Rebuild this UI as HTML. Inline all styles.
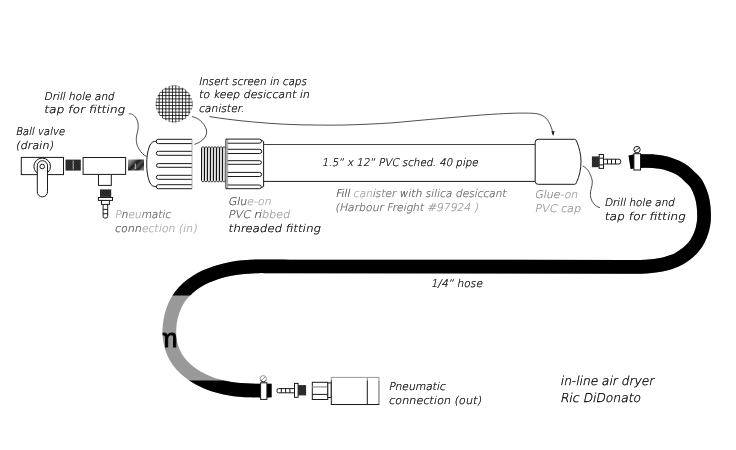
<!DOCTYPE html>
<html>
<head>
<meta charset="utf-8">
<title>In-line air dryer</title>
<style>
html,body{margin:0;padding:0;background:#fff;}
body{width:736px;height:450px;overflow:hidden;}
svg{display:block;will-change:transform;}
.t{font-family:"DejaVu Sans","Liberation Sans",sans-serif;font-weight:200;font-size:10.6px;fill:#000;stroke:#000;stroke-width:0.24;}
.l{fill:none;stroke:#1a1a1a;stroke-width:1;}
.c{fill:none;stroke:#222;stroke-width:0.8;}
.w{fill:#fff;stroke:#1a1a1a;stroke-width:1;}
.wm{font-family:"Liberation Sans",sans-serif;font-weight:normal;font-size:26.5px;fill:#000;stroke:#000;stroke-width:0.9;}
</style>
</head>
<body>
<svg width="736" height="450" viewBox="0 0 736 450">
<defs>
<pattern id="hatch" width="2" height="2" patternUnits="userSpaceOnUse" patternTransform="rotate(45)">
<rect width="2" height="2" fill="#1c1c1c"/>
<rect width="2" height="0.5" fill="#555"/>
</pattern>
<linearGradient id="gr2" x1="0" y1="0" x2="1" y2="0.7">
<stop offset="0" stop-color="#b5b5b5"/><stop offset="0.3" stop-color="#666"/><stop offset="0.5" stop-color="#1a1a1a"/><stop offset="0.68" stop-color="#555"/><stop offset="0.85" stop-color="#222"/><stop offset="1" stop-color="#777"/>
</linearGradient>
<clipPath id="disc"><circle cx="174.1" cy="104" r="18.5"/></clipPath>
<clipPath id="notband"><rect x="0" y="0" width="736" height="295.6"/><rect x="0" y="380.5" width="736" height="70"/></clipPath>
<mask id="hosemask" maskUnits="userSpaceOnUse" x="0" y="0" width="736" height="450"><path d="M629.6 162.2C630.9 162.0 634.7 161.4 637.3 161.2C639.9 161.0 642.6 161.0 645.2 161.0C647.9 161.0 650.6 161.0 653.2 161.2C655.8 161.4 658.5 161.6 661.0 162.1C663.5 162.6 666.0 163.1 668.5 163.9C671.0 164.7 673.8 165.7 676.3 166.9C678.8 168.1 681.4 169.5 683.7 171.2C686.0 172.9 688.0 175.1 690.0 177.0C692.0 178.9 694.1 180.7 695.6 182.8C697.1 184.9 698.2 187.4 699.3 189.8C700.3 192.2 701.2 194.7 701.9 197.2C702.6 199.7 703.0 202.4 703.4 205.0C703.8 207.6 703.9 210.3 704.0 213.0C704.1 215.7 704.1 218.3 703.9 220.9C703.6 223.5 703.1 226.1 702.5 228.7C701.9 231.2 701.0 233.8 700.0 236.2C699.0 238.6 697.8 240.9 696.4 243.1C695.0 245.3 693.3 247.3 691.5 249.2C689.7 251.1 687.8 252.7 685.7 254.3C683.6 255.9 681.4 257.4 679.1 258.6C676.8 259.9 674.4 260.9 671.9 261.8C669.4 262.7 666.9 263.5 664.3 264.1C661.7 264.7 659.1 265.1 656.5 265.5C653.9 265.9 651.2 266.2 648.6 266.4C646.0 266.6 643.2 266.7 640.6 266.8C638.0 266.9 635.3 266.9 632.8 266.9C630.2 266.9 626.5 266.8 625.3 266.8L290.0 266.5C288.2 266.5 282.9 266.4 279.3 266.4C275.7 266.4 272.2 266.3 268.6 266.3C265.0 266.3 261.5 266.2 257.9 266.3C254.3 266.4 250.8 266.5 247.2 266.8C243.6 267.1 240.1 267.4 236.6 267.9C233.1 268.4 229.6 269.1 226.1 269.9C222.6 270.7 219.2 271.6 215.8 272.7C212.4 273.8 209.1 275.1 205.8 276.6C202.6 278.1 199.3 279.8 196.3 281.7C193.3 283.6 190.4 285.7 187.8 288.1C185.2 290.5 182.7 293.1 180.6 295.9C178.5 298.7 176.6 301.8 175.1 305.0C173.6 308.2 172.4 311.6 171.5 315.0C170.6 318.4 169.9 322.0 169.6 325.6C169.3 329.2 169.2 332.8 169.5 336.4C169.8 339.9 170.4 343.5 171.4 346.9C172.4 350.3 173.8 353.6 175.5 356.6C177.2 359.6 179.3 362.5 181.7 365.1C184.1 367.7 186.9 370.2 189.7 372.4C192.5 374.6 195.6 376.6 198.7 378.3C201.8 380.0 205.2 381.5 208.5 382.8C211.8 384.1 215.2 385.2 218.6 386.1C222.0 387.0 225.5 387.8 229.0 388.4C232.5 389.0 236.0 389.5 239.6 389.8C243.2 390.1 246.7 390.3 250.3 390.4C253.9 390.5 257.4 390.6 261.0 390.6C264.6 390.6 269.8 390.5 271.6 390.5" fill="none" stroke="#fff" stroke-width="13.7"/></mask>
</defs>
<rect width="736" height="450" fill="#fff"/>

<!-- hose -->
<path d="M629.6 162.2C630.9 162.0 634.7 161.4 637.3 161.2C639.9 161.0 642.6 161.0 645.2 161.0C647.9 161.0 650.6 161.0 653.2 161.2C655.8 161.4 658.5 161.6 661.0 162.1C663.5 162.6 666.0 163.1 668.5 163.9C671.0 164.7 673.8 165.7 676.3 166.9C678.8 168.1 681.4 169.5 683.7 171.2C686.0 172.9 688.0 175.1 690.0 177.0C692.0 178.9 694.1 180.7 695.6 182.8C697.1 184.9 698.2 187.4 699.3 189.8C700.3 192.2 701.2 194.7 701.9 197.2C702.6 199.7 703.0 202.4 703.4 205.0C703.8 207.6 703.9 210.3 704.0 213.0C704.1 215.7 704.1 218.3 703.9 220.9C703.6 223.5 703.1 226.1 702.5 228.7C701.9 231.2 701.0 233.8 700.0 236.2C699.0 238.6 697.8 240.9 696.4 243.1C695.0 245.3 693.3 247.3 691.5 249.2C689.7 251.1 687.8 252.7 685.7 254.3C683.6 255.9 681.4 257.4 679.1 258.6C676.8 259.9 674.4 260.9 671.9 261.8C669.4 262.7 666.9 263.5 664.3 264.1C661.7 264.7 659.1 265.1 656.5 265.5C653.9 265.9 651.2 266.2 648.6 266.4C646.0 266.6 643.2 266.7 640.6 266.8C638.0 266.9 635.3 266.9 632.8 266.9C630.2 266.9 626.5 266.8 625.3 266.8L290.0 266.5C288.2 266.5 282.9 266.4 279.3 266.4C275.7 266.4 272.2 266.3 268.6 266.3C265.0 266.3 261.5 266.2 257.9 266.3C254.3 266.4 250.8 266.5 247.2 266.8C243.6 267.1 240.1 267.4 236.6 267.9C233.1 268.4 229.6 269.1 226.1 269.9C222.6 270.7 219.2 271.6 215.8 272.7C212.4 273.8 209.1 275.1 205.8 276.6C202.6 278.1 199.3 279.8 196.3 281.7C193.3 283.6 190.4 285.7 187.8 288.1C185.2 290.5 182.7 293.1 180.6 295.9C178.5 298.7 176.6 301.8 175.1 305.0C173.6 308.2 172.4 311.6 171.5 315.0C170.6 318.4 169.9 322.0 169.6 325.6C169.3 329.2 169.2 332.8 169.5 336.4C169.8 339.9 170.4 343.5 171.4 346.9C172.4 350.3 173.8 353.6 175.5 356.6C177.2 359.6 179.3 362.5 181.7 365.1C184.1 367.7 186.9 370.2 189.7 372.4C192.5 374.6 195.6 376.6 198.7 378.3C201.8 380.0 205.2 381.5 208.5 382.8C211.8 384.1 215.2 385.2 218.6 386.1C222.0 387.0 225.5 387.8 229.0 388.4C232.5 389.0 236.0 389.5 239.6 389.8C243.2 390.1 246.7 390.3 250.3 390.4C253.9 390.5 257.4 390.6 261.0 390.6C264.6 390.6 269.8 390.5 271.6 390.5" fill="none" stroke="#999" stroke-width="13.7"/>
<g clip-path="url(#notband)"><path d="M629.6 162.2C630.9 162.0 634.7 161.4 637.3 161.2C639.9 161.0 642.6 161.0 645.2 161.0C647.9 161.0 650.6 161.0 653.2 161.2C655.8 161.4 658.5 161.6 661.0 162.1C663.5 162.6 666.0 163.1 668.5 163.9C671.0 164.7 673.8 165.7 676.3 166.9C678.8 168.1 681.4 169.5 683.7 171.2C686.0 172.9 688.0 175.1 690.0 177.0C692.0 178.9 694.1 180.7 695.6 182.8C697.1 184.9 698.2 187.4 699.3 189.8C700.3 192.2 701.2 194.7 701.9 197.2C702.6 199.7 703.0 202.4 703.4 205.0C703.8 207.6 703.9 210.3 704.0 213.0C704.1 215.7 704.1 218.3 703.9 220.9C703.6 223.5 703.1 226.1 702.5 228.7C701.9 231.2 701.0 233.8 700.0 236.2C699.0 238.6 697.8 240.9 696.4 243.1C695.0 245.3 693.3 247.3 691.5 249.2C689.7 251.1 687.8 252.7 685.7 254.3C683.6 255.9 681.4 257.4 679.1 258.6C676.8 259.9 674.4 260.9 671.9 261.8C669.4 262.7 666.9 263.5 664.3 264.1C661.7 264.7 659.1 265.1 656.5 265.5C653.9 265.9 651.2 266.2 648.6 266.4C646.0 266.6 643.2 266.7 640.6 266.8C638.0 266.9 635.3 266.9 632.8 266.9C630.2 266.9 626.5 266.8 625.3 266.8L290.0 266.5C288.2 266.5 282.9 266.4 279.3 266.4C275.7 266.4 272.2 266.3 268.6 266.3C265.0 266.3 261.5 266.2 257.9 266.3C254.3 266.4 250.8 266.5 247.2 266.8C243.6 267.1 240.1 267.4 236.6 267.9C233.1 268.4 229.6 269.1 226.1 269.9C222.6 270.7 219.2 271.6 215.8 272.7C212.4 273.8 209.1 275.1 205.8 276.6C202.6 278.1 199.3 279.8 196.3 281.7C193.3 283.6 190.4 285.7 187.8 288.1C185.2 290.5 182.7 293.1 180.6 295.9C178.5 298.7 176.6 301.8 175.1 305.0C173.6 308.2 172.4 311.6 171.5 315.0C170.6 318.4 169.9 322.0 169.6 325.6C169.3 329.2 169.2 332.8 169.5 336.4C169.8 339.9 170.4 343.5 171.4 346.9C172.4 350.3 173.8 353.6 175.5 356.6C177.2 359.6 179.3 362.5 181.7 365.1C184.1 367.7 186.9 370.2 189.7 372.4C192.5 374.6 195.6 376.6 198.7 378.3C201.8 380.0 205.2 381.5 208.5 382.8C211.8 384.1 215.2 385.2 218.6 386.1C222.0 387.0 225.5 387.8 229.0 388.4C232.5 389.0 236.0 389.5 239.6 389.8C243.2 390.1 246.7 390.3 250.3 390.4C253.9 390.5 257.4 390.6 261.0 390.6C264.6 390.6 269.8 390.5 271.6 390.5" fill="none" stroke="#000" stroke-width="13.7"/></g>
<g mask="url(#hosemask)">
<text class="wm" x="155.5" y="347">m</text>
</g>

<!-- ball valve -->
<rect class="w" x="21.3" y="157.4" width="42.2" height="17.2"/>
<circle class="w" cx="42.2" cy="166.4" r="8.3"/>
<rect class="w" x="37.3" y="160.7" width="10.2" height="36.2" rx="5.1"/>
<circle class="w" cx="42.2" cy="166.5" r="2.3"/>

<!-- nipple 1 -->
<rect x="65.5" y="159.6" width="15.3" height="11" fill="url(#hatch)"/>
<line x1="73.2" y1="160.5" x2="73.2" y2="169.5" stroke="#eee" stroke-width="0.7"/>

<!-- tee -->
<rect class="w" x="98.5" y="170" width="12.8" height="15.4"/>
<rect class="w" x="83.1" y="157.5" width="42.5" height="16.9"/>

<!-- nipple 2 -->
<rect x="128" y="159.5" width="16" height="11" fill="url(#gr2)"/>
<line x1="135.3" y1="163.5" x2="135.3" y2="169" stroke="#fff" stroke-width="0.7"/>

<!-- plug under tee -->
<rect x="100" y="189.4" width="11.2" height="7.5" fill="url(#hatch)"/>
<rect class="w" x="103.1" y="203" width="4.6" height="15.1" rx="1.8"/>
<line class="l" x1="103.1" y1="209.4" x2="107.7" y2="209.4"/>
<line class="l" x1="103.1" y1="213.7" x2="107.7" y2="213.7"/>
<rect class="w" x="101.5" y="200.4" width="7.9" height="4"/>
<rect class="w" x="98.4" y="197.5" width="14.1" height="2.9"/>

<!-- end cap with ribs -->
<path class="l" d="M156.7 141.2C153 141.3 151 142.5 149.6 146C147.2 152 146.7 158 146.7 163.6C146.7 170 147.2 176 149.6 182C151 185.5 153 186.6 156.7 186.8"/>
<path class="l" d="M192 139.3H158.3a2.15 2.15 0 0 0 0 4.3H192M192 151.3H158.3a2 2 0 0 0 0 4H192M192 163.6H158.3a1.85 1.85 0 0 0 0 3.7H192M192 175.3H158.3a2 2 0 0 0 0 4H192M192 184.7H158.3a2 2 0 0 0 0 4H192"/>
<line x1="192" y1="139.3" x2="192" y2="188.7" stroke="#999" stroke-width="0.8"/>

<!-- thread -->
<path d="M201.50 148V180.6M204.50 148V180.6M207.50 148V180.6M210.50 148V180.6M213.50 148V180.6M216.50 148V180.6M219.50 148V180.6M222.50 148V180.6" fill="none" stroke="#111" stroke-width="1"/><path d="M202.95 147.6L203.25 181M205.95 147.6L206.25 181M208.95 147.6L209.25 181M211.95 147.6L212.25 181M214.95 147.6L215.25 181M217.95 147.6L218.25 181M220.95 147.6L221.25 181M223.95 147.6L224.25 181" fill="none" stroke="#8a8a8a" stroke-width="0.7"/>
<path d="M201.50 148.2Q201.80 146.6 203.05 146.8Q204.30 146.6 204.50 148.2M204.50 148.2Q204.80 146.6 206.05 146.8Q207.30 146.6 207.50 148.2M207.50 148.2Q207.80 146.6 209.05 146.8Q210.30 146.6 210.50 148.2M210.50 148.2Q210.80 146.6 212.05 146.8Q213.30 146.6 213.50 148.2M213.50 148.2Q213.80 146.6 215.05 146.8Q216.30 146.6 216.50 148.2M216.50 148.2Q216.80 146.6 218.05 146.8Q219.30 146.6 219.50 148.2M219.50 148.2Q219.80 146.6 221.05 146.8Q222.30 146.6 222.50 148.2M222.50 148.2Q222.80 146.6 224.05 146.8Q225.30 146.6 225.50 148.2M201.50 180.4Q201.80 182 203.05 181.9Q204.30 182 204.50 180.4M204.50 180.4Q204.80 182 206.05 181.9Q207.30 182 207.50 180.4M207.50 180.4Q207.80 182 209.05 181.9Q210.30 182 210.50 180.4M210.50 180.4Q210.80 182 212.05 181.9Q213.30 182 213.50 180.4M213.50 180.4Q213.80 182 215.05 181.9Q216.30 182 216.50 180.4M216.50 180.4Q216.80 182 218.05 181.9Q219.30 182 219.50 180.4M219.50 180.4Q219.80 182 221.05 181.9Q222.30 182 222.50 180.4M222.50 180.4Q222.80 182 224.05 181.9Q225.30 182 225.50 180.4" fill="none" stroke="#222" stroke-width="0.8"/>

<!-- ribbed fitting -->
<path class="l" d="M225.9 139.1V188.7M261.2 140.1L263.6 141.4V186.5L261.2 187.7"/>
<path d="M227.7 139.3V188.7" fill="none" stroke="#777" stroke-width="0.7"/>
<path class="l" d="M225.9 139.1H259.4a2.05 2.05 0 0 1 0 4.1H227.7M227.7 149.3H259.6a2.1 2.1 0 0 1 0 4.2H227.7M227.7 160.7H259.6a1.8 1.8 0 0 1 0 3.6H227.7M227.7 172.4H259.6a2.05 2.05 0 0 1 0 4.1H227.7M227.7 185H259.4a1.85 1.85 0 0 1 0 3.7H225.9"/>

<!-- pipe -->
<path d="M263.6 144.5H535.2" fill="none" stroke="#444" stroke-width="1"/>
<path class="l" d="M263.6 181.4H535.2"/>

<!-- PVC cap -->
<path class="w" d="M538.2 139.3H574.5Q576 139.3 576.5 141C582.5 155 582.5 169 576.5 182.6Q576 184.3 574.5 184.3H538.2Q535.2 184.3 535.2 181.3V142.3Q535.2 139.3 538.2 139.3Z"/>

<!-- barb fitting top right -->
<rect x="591.9" y="156.4" width="7" height="10.8" fill="url(#hatch)"/>
<rect class="w" x="602" y="159.2" width="18.8" height="4.8" rx="2"/>
<path class="l" d="M607.5 159.2V164M611.5 159.2V164M615.5 159.2V164"/>
<rect class="w" x="599.2" y="154.5" width="4.3" height="13.9"/>
<path class="l" d="M599.2 158.2H603.5M599.2 164.9H603.5"/>

<!-- clamp top right -->
<rect class="w" x="633.9" y="153.7" width="6.6" height="16.3"/>
<circle class="w" cx="637" cy="149.6" r="3.2" stroke-width="1.2"/>
<line class="l" x1="634.7" y1="151.6" x2="639.3" y2="147.6"/>

<!-- clamp bottom -->
<rect class="w" x="260.6" y="382.8" width="6.3" height="16.6"/>
<circle class="w" cx="263.3" cy="378.7" r="3.1" stroke-width="1.2"/>
<line class="l" x1="261.1" y1="380.6" x2="265.5" y2="376.8"/>

<!-- barb bottom -->
<rect class="w" x="277" y="388.6" width="19" height="4.2" rx="1.5"/>
<path class="l" d="M281.3 388.6V392.8M285.6 388.6V392.8M289.9 388.6V392.8"/>
<rect class="w" x="294.5" y="383.4" width="3.6" height="13.9"/>
<rect x="298.1" y="385.1" width="8" height="10.3" fill="url(#hatch)"/>

<!-- coupler -->
<rect class="w" x="312.3" y="382.3" width="15.5" height="17.2"/>
<path d="M312.3 386.9H327.8" fill="none" stroke="#999" stroke-width="1.3"/><path class="l" d="M312.3 394.4H327.8"/>
<rect class="w" x="327.8" y="382.9" width="3.5" height="14.6"/>
<rect class="w" x="331.3" y="377.4" width="47.6" height="27.1"/>
<line class="l" x1="367.3" y1="377.4" x2="367.3" y2="404.5"/>
<rect x="255" y="295.6" width="481" height="84.9" fill="#fff" opacity="0.55"/>
<line x1="378.9" y1="380" x2="378.9" y2="404" stroke="#fff" stroke-width="1.2" opacity="0.5"/>

<!-- screen disc -->
<g clip-path="url(#disc)"><path d="M152.57 84V124M155.88 84V124M159.20 84V124M162.52 84V124M165.83 84V124M169.15 84V124M172.47 84V124M175.79 84V124M179.10 84V124M182.42 84V124M185.74 84V124M189.05 84V124M192.37 84V124M154 82.33H194M154 85.65H194M154 88.97H194M154 92.28H194M154 95.60H194M154 98.92H194M154 102.23H194M154 105.55H194M154 108.87H194M154 112.19H194M154 115.50H194M154 118.82H194M154 122.14H194" fill="none" stroke="#000" stroke-width="0.78"/></g>

<!-- callouts -->
<path class="c" d="M128.8 113.8C131 113.5 134 114.5 136 118C139 123 138.6 128 137 134C135.5 140 136.5 145 139 149C141 152.5 143.5 155 146.5 156.5"/>
<path class="c" d="M192.1 116.5C198 118 204 122 206.5 130C207.5 135 204 141.5 194.4 144.4"/>
<path class="c" d="M209.4 116.6C225 119 240 120.8 252.5 121.9C275 124 295 125 315 125C325 125.2 335 125.2 346 125C362 124.5 378 123.8 393 122.8C420 120.3 440 118.5 462.5 116.6C480 115 495 114 509 113.4C520 113 528 113 534.4 113.4C541 114 545.5 116.5 548.4 121.3C551 125.5 552.5 130 553 134.7"/>
<path d="M553.2 136L551.3 131.2L554.6 131Z" fill="#222"/>
<path class="c" d="M582.8 165.9C585.5 167.5 588 169.5 589.4 172.6C591 176 592.3 179 592.3 182C592.3 187 590 190.5 590.4 195.4C590.8 200 593 203.5 596 205.8C597.5 207 598.8 207.5 600 207.6"/>

<!-- labels -->
<text class="t" transform="translate(43.8 99.7) skewX(-12)" textLength="70.2" lengthAdjust="spacingAndGlyphs">Drill hole and</text>
<text class="t" transform="translate(43.8 113.3) skewX(-12)" textLength="80.6" lengthAdjust="spacingAndGlyphs">tap for fitting</text>
<text class="t" transform="translate(15.6 135.2) skewX(-12)" textLength="49.0" lengthAdjust="spacingAndGlyphs">Ball valve</text>
<text class="t" transform="translate(15.6 148.7) skewX(-12)" textLength="37.6" lengthAdjust="spacingAndGlyphs">(drain)</text>
<text class="t" transform="translate(198.4 84.6) skewX(-12)" textLength="107.9" lengthAdjust="spacingAndGlyphs">Insert screen in caps</text>
<text class="t" transform="translate(198.4 98) skewX(-12)" textLength="110.9" lengthAdjust="spacingAndGlyphs">to keep desiccant in</text>
<text class="t" transform="translate(198.4 111.6) skewX(-12)" textLength="45.5" lengthAdjust="spacingAndGlyphs">canister.</text>
<text class="t" transform="translate(114.6 217.5) skewX(-12)" textLength="56.0" lengthAdjust="spacingAndGlyphs"><tspan fill="#aaa" stroke="#aaa">P</tspan><tspan fill="#555" stroke="#555">n</tspan><tspan fill="#aaa" stroke="#aaa">eu</tspan><tspan fill="#686868" stroke="#686868">matic</tspan></text>
<text class="t" transform="translate(114.6 231.5) skewX(-12)" textLength="82.1" lengthAdjust="spacingAndGlyphs"><tspan fill="#555" stroke="#555">conn</tspan><tspan fill="#aaa" stroke="#aaa">ection (in)</tspan></text>
<text class="t" transform="translate(228 205.4) skewX(-12)" textLength="43.0" lengthAdjust="spacingAndGlyphs"><tspan fill="#484848" stroke="#484848">Glu</tspan><tspan fill="#aaa" stroke="#aaa">e-on</tspan></text>
<text class="t" transform="translate(228 218) skewX(-12)" textLength="61.6" lengthAdjust="spacingAndGlyphs"><tspan fill="#5a5a5a" stroke="#5a5a5a">PVC </tspan><tspan fill="#444" stroke="#444">ri</tspan><tspan fill="#a0a0a0" stroke="#a0a0a0">bbed</tspan></text>
<text class="t" transform="translate(228 231.5) skewX(-12)" textLength="92.0" lengthAdjust="spacingAndGlyphs">threaded fitting</text>
<text class="t" transform="translate(321.8 165.8) skewX(-12)" textLength="156.2" lengthAdjust="spacingAndGlyphs">1.5” x 12” PVC sched. 40 pipe</text>
<text class="t" transform="translate(335.5 196.7) skewX(-12)" textLength="170.5" lengthAdjust="spacingAndGlyphs"><tspan fill="#444" stroke="#444">Fill</tspan><tspan fill="#aaa" stroke="#aaa"> can</tspan><tspan fill="#777" stroke="#777">ister </tspan><tspan fill="#555" stroke="#555">with </tspan><tspan fill="#6a6a6a" stroke="#6a6a6a">silica desiccant</tspan></text>
<text class="t" transform="translate(335 210.6) skewX(-12)" textLength="143.0" lengthAdjust="spacingAndGlyphs"><tspan fill="#6a6a6a" stroke="#6a6a6a">(Harbour Freight </tspan><tspan fill="#999" stroke="#999">#97924 )</tspan></text>
<text class="t" transform="translate(534.6 198.2) skewX(-12)" textLength="42.9" lengthAdjust="spacingAndGlyphs"><tspan fill="#888" stroke="#888">Glue</tspan><tspan fill="#a0a0a0" stroke="#a0a0a0">-on</tspan></text>
<text class="t" transform="translate(534.6 212) skewX(-12)" textLength="45.9" lengthAdjust="spacingAndGlyphs"><tspan fill="#999" stroke="#999">PVC cap</tspan></text>
<text class="t" transform="translate(604.2 206.2) skewX(-12)" textLength="70.1" lengthAdjust="spacingAndGlyphs">Drill hole and</text>
<text class="t" transform="translate(604.2 220.1) skewX(-12)" textLength="80.8" lengthAdjust="spacingAndGlyphs">tap for fitting</text>
<text class="t" transform="translate(430.8 287.3) skewX(-12)" textLength="51.4" lengthAdjust="spacingAndGlyphs">1/4” hose</text>
<text class="t" transform="translate(388.4 389.9) skewX(-12)" textLength="56.8" lengthAdjust="spacingAndGlyphs">Pneumatic</text>
<text class="t" transform="translate(388.4 403.7) skewX(-12)" textLength="92.8" lengthAdjust="spacingAndGlyphs">connection (out)</text>
<text class="t" style="font-size:12.2px;stroke-width:0.3" transform="translate(560 385) skewX(-12)" textLength="93.4" lengthAdjust="spacingAndGlyphs">in-line air dryer</text>
<text class="t" style="font-size:12.2px;stroke-width:0.3" transform="translate(560 401.7) skewX(-12)" textLength="80.3" lengthAdjust="spacingAndGlyphs">Ric DiDonato</text>

</svg>
</body>
</html>
